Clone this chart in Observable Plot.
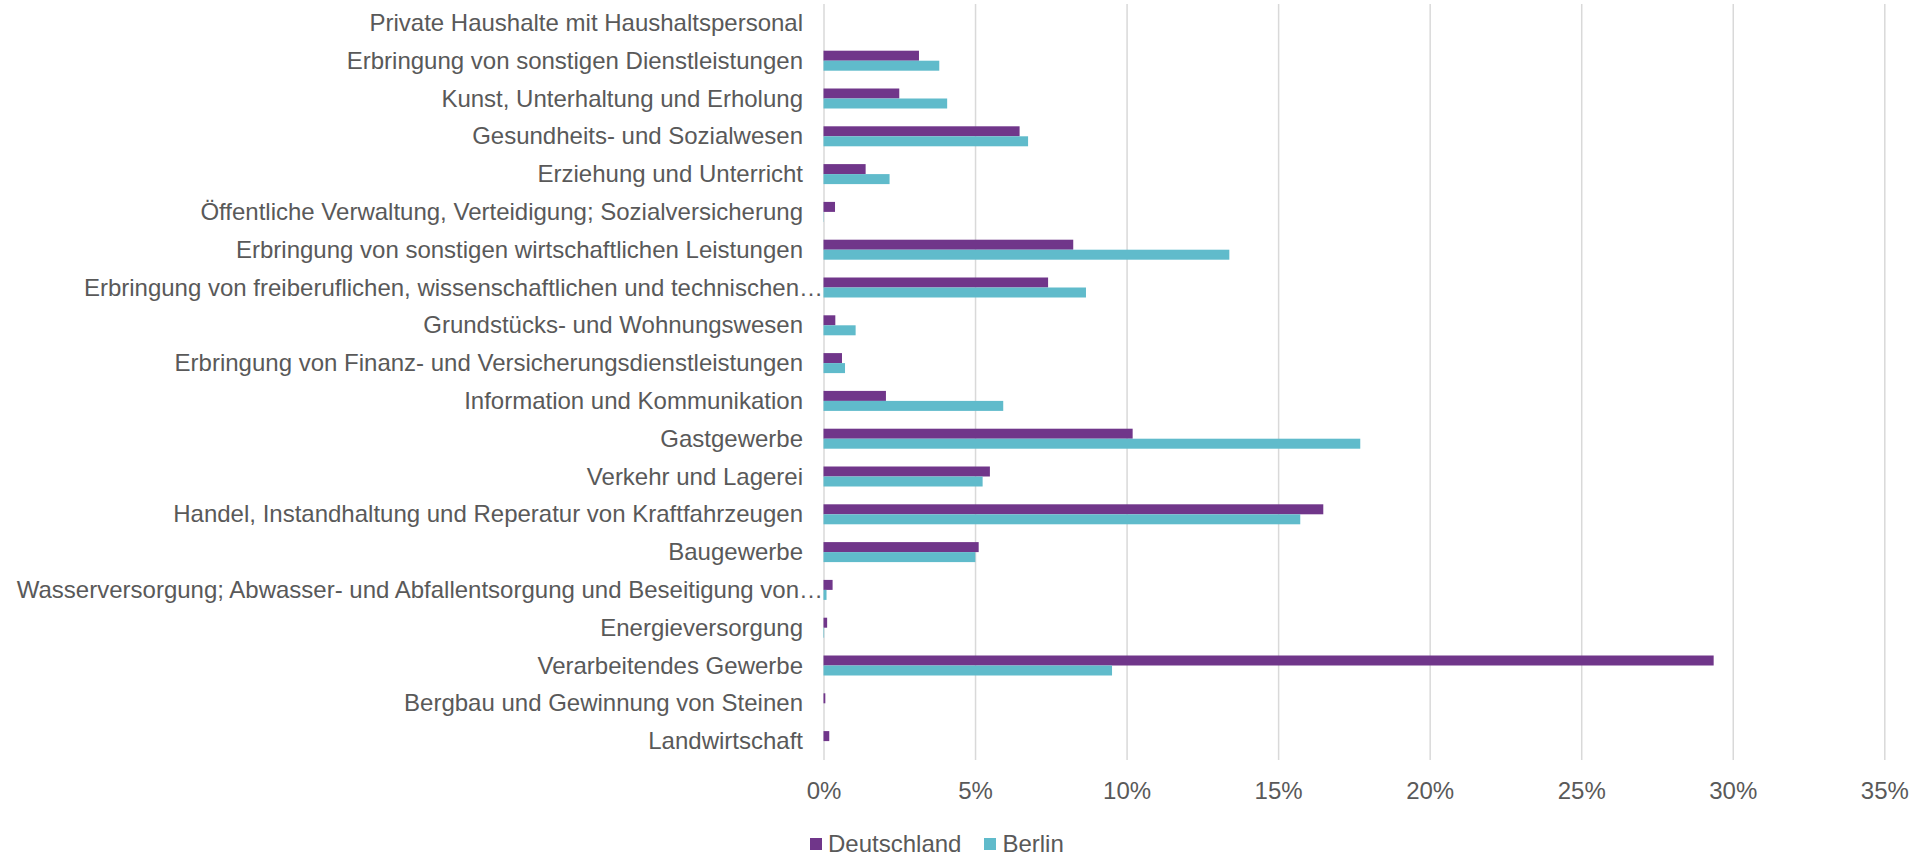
<!DOCTYPE html>
<html>
<head>
<meta charset="utf-8">
<script src="https://cdn.jsdelivr.net/npm/d3@7"></script>
<script src="https://cdn.jsdelivr.net/npm/@observablehq/plot@0.6"></script>
<style>
  html, body { margin: 0; padding: 0; background: #fff; }
  body { font-family: "Liberation Sans", Arial, sans-serif; color: #595959; }
  #legend { display: flex; align-items: center; margin-left: 810px; margin-top: 20px; font-size: 24px; line-height: 28px; }
  .item { display: flex; align-items: center; margin-right: 23px; }
  .sw { width: 12px; height: 12px; margin-right: 6px; }
</style>
</head>
<body>
<div id="chart"></div>
<div id="legend"></div>
<script>
const industries = [
  "Private Haushalte mit Haushaltspersonal",
  "Erbringung von sonstigen Dienstleistungen",
  "Kunst, Unterhaltung und Erholung",
  "Gesundheits- und Sozialwesen",
  "Erziehung und Unterricht",
  "Öffentliche Verwaltung, Verteidigung; Sozialversicherung",
  "Erbringung von sonstigen wirtschaftlichen Leistungen",
  "Erbringung von freiberuflichen, wissenschaftlichen und technischen…",
  "Grundstücks- und Wohnungswesen",
  "Erbringung von Finanz- und Versicherungsdienstleistungen",
  "Information und Kommunikation",
  "Gastgewerbe",
  "Verkehr und Lagerei",
  "Handel, Instandhaltung und Reperatur von Kraftfahrzeugen",
  "Baugewerbe",
  "Wasserversorgung; Abwasser- und Abfallentsorgung und Beseitigung von…",
  "Energieversorgung",
  "Verarbeitendes Gewerbe",
  "Bergbau und Gewinnung von Steinen",
  "Landwirtschaft"
];
const deutschland = [0, 3.15, 2.50, 6.47, 1.39, 0.38, 8.24, 7.41, 0.39, 0.61, 2.06, 10.20, 5.49, 16.49, 5.12, 0.30, 0.12, 29.37, 0.06, 0.19];
const berlin      = [0, 3.82, 4.08, 6.75, 2.18, 0.01, 13.39, 8.66, 1.06, 0.71, 5.93, 17.71, 5.25, 15.73, 5.01, 0.10, 0.02, 9.52, 0.00, 0.00];
const seriesNames = ["Deutschland", "Berlin"];
const seriesColors = ["#70368A", "#60BBCB"];
const xTicks = [0, 5, 10, 15, 20, 25, 30, 35];

const rowsD = industries.map((k, i) => ({industry: k, series: seriesNames[0], value: deutschland[i]}));
const rowsB = industries.map((k, i) => ({industry: k, series: seriesNames[1], value: berlin[i]}));

const truncated = industries.filter(d => d.endsWith("…"));
const normal = industries.filter(d => !d.endsWith("…"));

const chart = Plot.plot({
  width: 1919,
  height: 810,
  marginLeft: 823.5,
  marginRight: 34.7,
  marginTop: 4,
  marginBottom: 50,
  style: {fontFamily: "'Liberation Sans', Arial, sans-serif", fontSize: "24px", color: "#595959", background: "#fff"},
  x: {domain: [0, 35], axis: null},
  y: {domain: industries, paddingInner: 0.471, paddingOuter: 0.2355, round: false, axis: null},
  marks: [
    Plot.gridX(xTicks, {stroke: "#D9D9D9", strokeOpacity: 1, strokeWidth: 1.5}),
    Plot.barX(rowsD, {x: "value", y: "industry", fill: seriesColors[0], insetBottom: 10}),
    Plot.barX(rowsB, {x: "value", y: "industry", fill: seriesColors[1], insetTop: 10}),
    Plot.axisX(xTicks, {tickSize: 0, tickPadding: 21, tickFormat: d => d + "%", label: null, fontSize: 24}),
    Plot.axisY(normal, {tickSize: 0, tickPadding: 21, label: null, fontSize: 24}),
    Plot.axisY(truncated, {tickSize: 0, tickPadding: 1, label: null, fontSize: 24})
  ]
});
document.getElementById("chart").appendChild(chart);

const legend = document.getElementById("legend");
seriesNames.forEach((name, i) => {
  const item = document.createElement("div");
  item.className = "item";
  const sw = document.createElement("div");
  sw.className = "sw";
  sw.style.background = seriesColors[i];
  const label = document.createElement("span");
  label.textContent = name;
  item.appendChild(sw);
  item.appendChild(label);
  legend.appendChild(item);
});
</script>
</body>
</html>
